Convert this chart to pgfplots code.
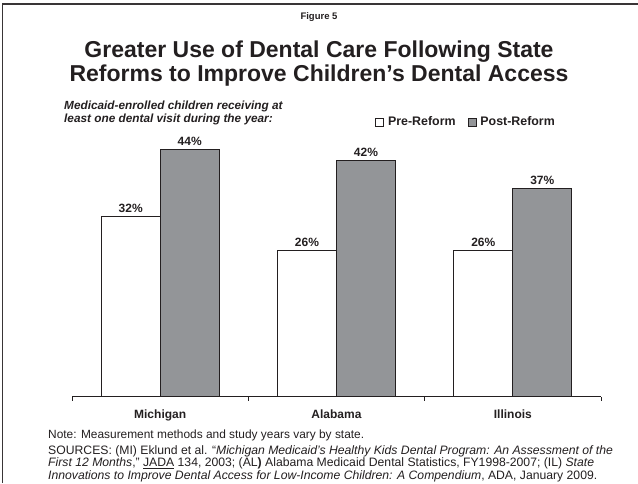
\documentclass[border=0pt]{standalone}
\usepackage{fontspec}
\setmainfont{Liberation Sans}
\usepackage{pgfplots}
\pgfplotsset{compat=1.18}
\definecolor{postgray}{RGB}{147,149,152}
\definecolor{ink}{RGB}{35,31,32}
% small square legend swatch, with a little room before the text
\pgfplotsset{sqlegend/.style={legend image code/.code={%
  \draw[##1, line width=0.6pt] (0pt,-4pt) rectangle (8pt,4pt);
  \path[draw=none, fill=none] (0pt,0pt) (10.5pt,0pt);}}}
\begin{document}
\begin{tikzpicture}[x=1pt,y=1pt]
\useasboundingbox (0,0) rectangle (638,483);
% page frame: left and top rule
\draw[line width=1.3pt, color=ink!90] (2.7,0) -- (2.7,479) -- (638,479);
% headings
\node[font=\bfseries\fontsize{9.5}{11}\selectfont, text=ink] at (319,466) {Figure 5};
\node[font=\bfseries\fontsize{23}{24.5}\selectfont, align=center, text=ink, inner sep=0pt] at (319,419.5)
  {Greater Use of Dental Care Following State\\Reforms to Improve Children’s Dental Access};
\node[font=\bfseries\itshape\fontsize{11.8}{13}\selectfont, align=left, text=ink, inner sep=0pt, anchor=west] at (64,370)
  {Medicaid-enrolled children receiving at\\least one dental visit during the year:};
% notes and sources
\node[font=\fontsize{11.9}{11.2}\selectfont, text=ink, inner sep=0pt, anchor=base west] at (48,45)
  {Note: Measurement methods and study years vary by state.};
\node[font=\fontsize{12.2}{11.2}\selectfont, align=left, text=ink, inner sep=0pt, anchor=north west] at (48,37.5)
  {SOURCES: (MI) Eklund et al. “\textit{Michigan Medicaid’s Healthy Kids Dental Program: An Assessment of the}\\
   \textit{First 12 Months},” \underline{JADA} 134, 2003; (AL\textbf{)} Alabama Medicaid Dental Statistics, FY1998-2007; (IL) \textit{State}\\
   \textit{Innovations to Improve Dental Access for Low-Income Children: A Compendium}, ADA, January 2009.};
\begin{axis}[
  at={(72pt,86.3pt)}, anchor=south west,
  scale only axis, width=529pt, height=281pt,
  xmin=-0.5, xmax=2.5, ymin=0, ymax=50,
  axis y line=none, axis x line*=bottom,
  x axis line style={-, line width=0.8pt, color=ink},
  ybar=0pt, bar width=59pt,
  xtick={-0.5,0.5,1.5,2.5}, xticklabels={},
  major tick length=4pt, tick align=outside,
  tick style={line width=0.8pt, color=ink},
  extra x ticks={0,1,2},
  extra x tick labels={Michigan,Alabama,Illinois},
  extra x tick style={major tick length=0pt,
    xticklabel style={font=\bfseries\fontsize{12}{14}\selectfont, text=ink, yshift=-10pt}},
  /pgf/number format/assume math mode=true,
  nodes near coords={\pgfmathprintnumber{\pgfplotspointmeta}\%},
  every node near coord/.append style={font=\bfseries\fontsize{12}{13}\selectfont, text=ink},
  legend style={at={(0.573,0.978)}, anchor=west, draw=none, fill=none,
    legend columns=2, font=\bfseries\fontsize{12.4}{14}\selectfont, text=ink,
    /tikz/every even column/.append style={column sep=10pt}, inner sep=0pt,
    cells={anchor=west}},
  clip=false,
]
\addplot[fill=white, draw=ink, line width=0.8pt, sqlegend]
  coordinates {(0,32) (1,26) (2,26)};
\addplot[fill=postgray, draw=ink, line width=0.8pt, sqlegend]
  coordinates {(0,44) (1,42) (2,37)};
\legend{Pre-Reform, Post-Reform}
\end{axis}
\end{tikzpicture}
\end{document}
